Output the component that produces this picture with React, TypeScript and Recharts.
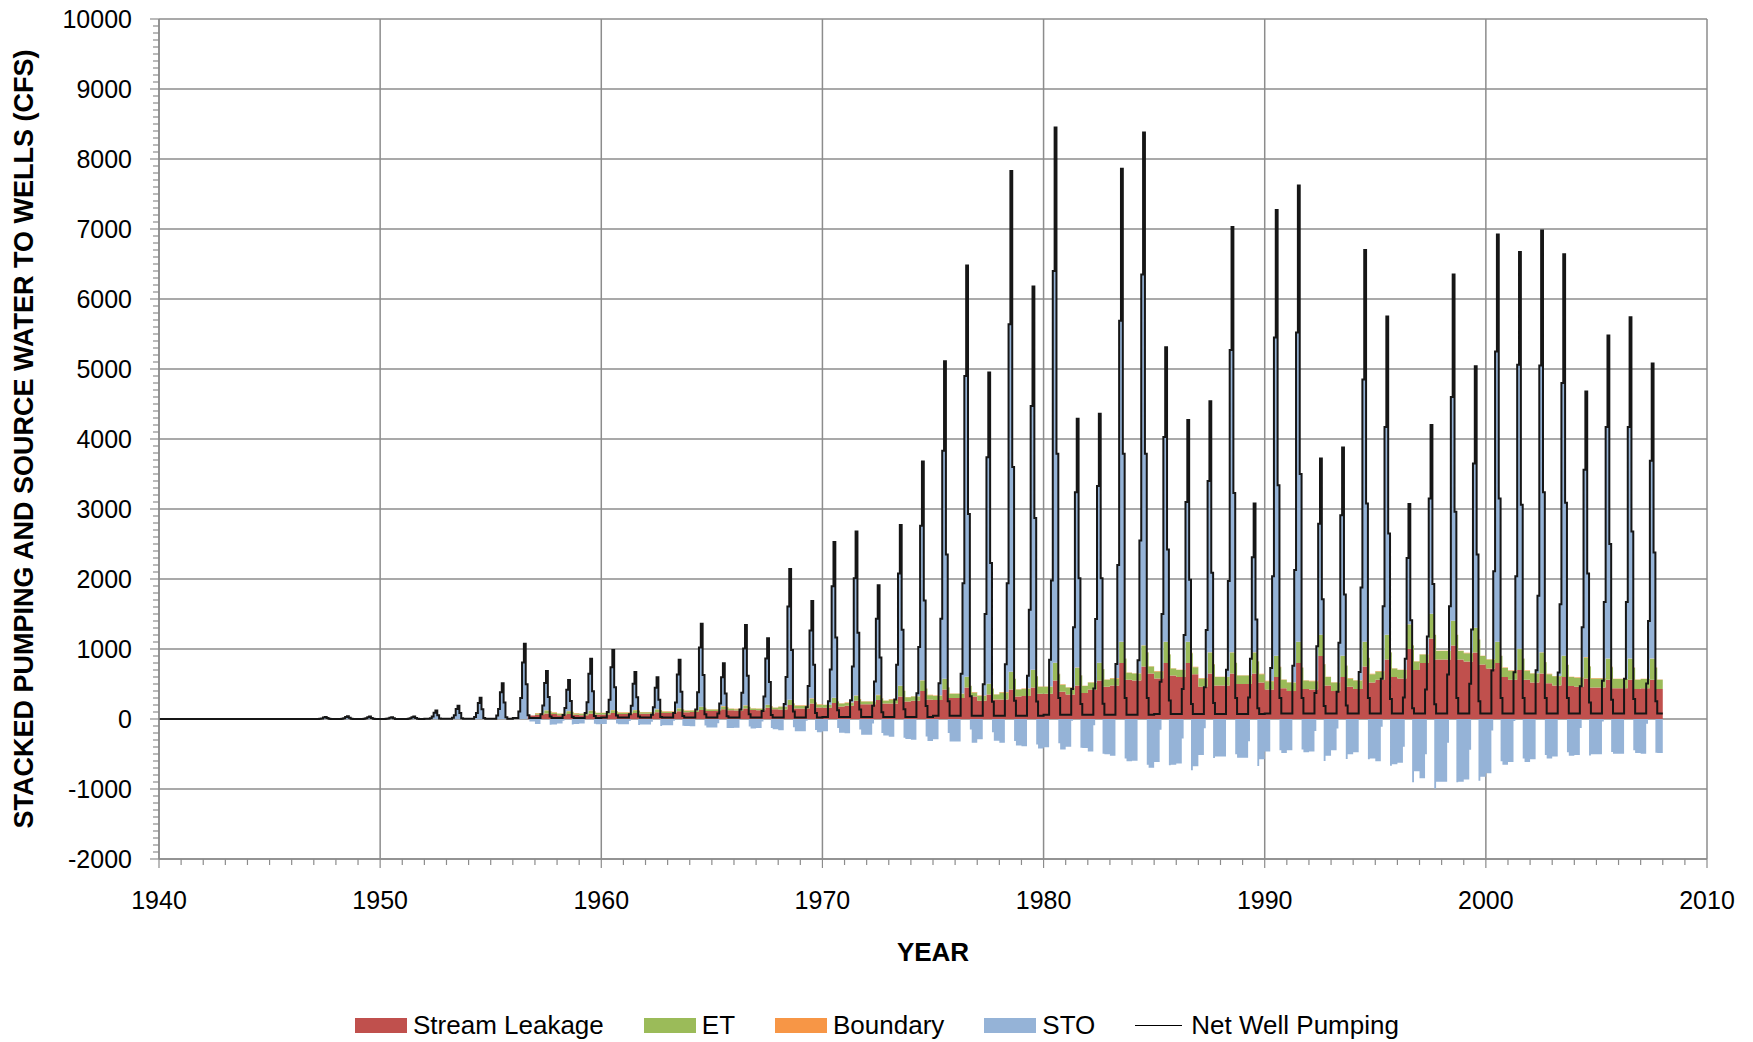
import React from 'react';
import { ComposedChart, Area, Line, XAxis, YAxis, CartesianGrid } from 'recharts';

const FIRST_YEAR = 1940;

// net well pumping, one reading per year for each month of the pumping season (cfs)
const PUMP_APR = [
  0, 0, 0, 0, 0, 0, 0, 3, 4, 4,
  3, 4, 12, 19, 30, 51, 108, 69, 56, 86,
  99, 67, 60, 85, 136, 80, 134, 115, 214, 169,
  253, 268, 191, 277, 368, 511, 648, 495, 783, 618,
  845, 429, 436, 786, 838, 531, 427, 454, 703, 308,
  727, 762, 372, 388, 670, 575, 307, 420, 635, 504,
  692, 667, 698, 664, 468, 548, 574, 508,
];
const PUMP_MAY = [
  0, 0, 0, 0, 0, 0, 0, 8, 11, 10,
  7, 10, 34, 53, 85, 143, 301, 192, 156, 241,
  276, 188, 167, 237, 381, 223, 376, 323, 600, 472,
  708, 750, 535, 776, 1030, 1431, 1940, 1500, 1940, 1560,
  1980, 1310, 1430, 2200, 2550, 1500, 1200, 1270, 1970, 860,
  2040, 2130, 1040, 1090, 1880, 1610, 860, 1180, 1610, 1280,
  2110, 2040, 1760, 1640, 1310, 1670, 1670, 1400,
];
const PUMP_JUN = [
  0, 0, 0, 0, 0, 0, 0, 22, 30, 26,
  19, 26, 90, 142, 229, 382, 807, 514, 418, 646,
  740, 503, 446, 636, 1021, 596, 1007, 864, 1607, 1264,
  1897, 2010, 1432, 2077, 2760, 3832, 4900, 3740, 5640, 4470,
  6400, 3240, 3330, 5690, 6350, 4030, 3100, 3400, 5270, 2310,
  5450, 5520, 2790, 2910, 4850, 4170, 2300, 3150, 4600, 3650,
  5250, 5060, 5050, 4800, 3560, 4170, 4170, 3690,
];
const PUMP_JUL = [
  0, 0, 0, 0, 0, 0, 0, 30, 40, 35,
  25, 35, 120, 190, 305, 510, 1076, 686, 557, 862,
  986, 671, 595, 848, 1362, 795, 1343, 1152, 2143, 1686,
  2530, 2680, 1910, 2770, 3680, 5110, 6480, 4950, 7830, 6180,
  8450, 4290, 4360, 7860, 8380, 5310, 4270, 4540, 7030, 3080,
  7270, 7620, 3720, 3880, 6700, 5750, 3070, 4200, 6350, 5040,
  6920, 6670, 6980, 6640, 4680, 5480, 5740, 5080,
];
const PUMP_AUG = [
  0, 0, 0, 0, 0, 0, 0, 14, 18, 16,
  12, 16, 55, 87, 140, 235, 495, 316, 256, 397,
  454, 309, 274, 390, 627, 366, 618, 530, 986, 776,
  1164, 1233, 879, 1274, 1693, 2351, 2930, 2230, 3600, 2870,
  3790, 2010, 2010, 3790, 3790, 2420, 1990, 2090, 3230, 1420,
  3340, 3500, 1710, 1780, 3080, 2650, 1410, 1930, 2960, 2350,
  3150, 3060, 3240, 3090, 2080, 2500, 2680, 2380,
];
const PUMP_SEP = [
  0, 0, 0, 0, 0, 0, 0, 2, 2, 2,
  1, 2, 6, 10, 15, 25, 54, 34, 28, 43,
  49, 34, 30, 42, 68, 40, 67, 58, 107, 84,
  126, 134, 95, 138, 184, 255, 324, 247, 260, 250,
  300, 215, 218, 300, 300, 265, 213, 227, 300, 154,
  300, 300, 186, 194, 300, 287, 153, 210, 300, 252,
  300, 300, 300, 300, 234, 274, 287, 254,
];
// off-season pumping (Oct - Mar)
const PUMP_BASE = [
  0, 0, 0, 0, 0, 0, 0, 0, 0, 0,
  0, 0, 5, 5, 5, 5, 15, 15, 15, 15,
  20, 20, 20, 20, 20, 20, 20, 20, 20, 20,
  30, 30, 30, 30, 30, 45, 45, 45, 45, 45,
  60, 60, 60, 60, 60, 70, 70, 70, 70, 70,
  80, 80, 80, 80, 80, 80, 80, 80, 80, 80,
  80, 80, 80, 80, 80, 80, 80, 80,
];

// stream leakage: Jan-May, Jun-Aug, Sep-Dec
const SL_SPRING = [
  0, 0, 0, 0, 0, 0, 0, 0, 0, 0,
  0, 0, 0, 0, 0, 0, 0, 60, 55, 55,
  65, 70, 75, 85, 100, 115, 120, 125, 135, 150,
  160, 190, 210, 220, 260, 270, 300, 260, 280, 330,
  360, 350, 420, 480, 550, 580, 600, 460, 480, 500,
  420, 400, 420, 400, 430, 560, 580, 800, 850, 820,
  720, 560, 520, 480, 460, 450, 440, 440,
];
const SL_SUMMER = [
  0, 0, 0, 0, 0, 0, 0, 0, 0, 0,
  0, 0, 0, 0, 0, 0, 0, 80, 70, 75,
  85, 85, 95, 110, 130, 140, 150, 160, 200, 220,
  230, 260, 270, 320, 400, 420, 450, 350, 420, 450,
  550, 480, 550, 800, 750, 800, 800, 650, 650, 650,
  600, 800, 900, 600, 750, 850, 1000, 1150, 1050, 950,
  800, 700, 650, 600, 580, 560, 560, 560,
];
const SL_FALL = [
  0, 0, 0, 0, 0, 0, 0, 0, 0, 0,
  0, 0, 0, 0, 0, 0, 50, 70, 60, 65,
  70, 75, 85, 95, 115, 125, 130, 140, 150, 165,
  180, 210, 220, 250, 280, 300, 320, 280, 320, 360,
  390, 370, 460, 560, 650, 620, 640, 480, 500, 520,
  440, 430, 480, 460, 520, 600, 700, 850, 850, 780,
  600, 560, 510, 470, 450, 440, 430, 430,
];

// ET: Oct-May and Jun-Sep
const ET_REST = [
  0, 0, 0, 0, 0, 0, 0, 0, 0, 0,
  0, 0, 0, 0, 0, 0, 0, 20, 20, 20,
  20, 20, 20, 20, 20, 20, 20, 20, 40, 40,
  40, 40, 40, 60, 60, 60, 60, 70, 100, 100,
  100, 100, 100, 100, 100, 100, 100, 120, 120, 120,
  120, 120, 120, 120, 120, 120, 120, 120, 120, 120,
  130, 130, 130, 130, 130, 130, 130, 130,
];
const ET_SUMMER = [
  0, 0, 0, 0, 0, 0, 0, 0, 0, 0,
  0, 0, 0, 0, 0, 0, 0, 40, 40, 40,
  40, 40, 40, 40, 40, 40, 40, 40, 70, 70,
  70, 70, 70, 150, 150, 150, 150, 150, 250, 250,
  250, 250, 250, 300, 300, 300, 300, 300, 300, 300,
  300, 300, 300, 300, 350, 350, 350, 350, 350, 350,
  300, 300, 300, 300, 300, 300, 300, 300,
];

const BOUNDARY = [
  0, 0, 0, 0, 0, 0, 0, 0, 0, 0,
  0, 0, 0, 0, 0, 0, 0, 5, 5, 5,
  5, 5, 5, 5, 5, 5, 5, 5, 5, 5,
  5, 5, 5, 5, 5, 5, 5, 5, 5, 5,
  5, 5, 5, 5, 5, 5, 5, 5, 5, 5,
  5, 5, 5, 5, 5, 5, 5, 5, 5, 5,
  5, 5, 5, 5, 5, 5, 5, 5,
];

const X_LABELS = [1940, 1950, 1960, 1970, 1980, 1990, 2000, 2010];
const Y_LABELS = [-2000, -1000, 0, 1000, 2000, 3000, 4000, 5000, 6000, 7000, 8000, 9000, 10000];

const RED = '#C0504D';
const GREEN = '#9BBB59';
const ORANGE = '#F79646';
const BLUE = '#95B3D7';
const GRID = '#8c8c8c';
const FONT = '"Liberation Sans", Arial, Helvetica, sans-serif';

// which reading each calendar month uses
const PUMP_BY_MONTH = [PUMP_BASE, PUMP_BASE, PUMP_BASE, PUMP_APR, PUMP_MAY, PUMP_JUN, PUMP_JUL, PUMP_AUG, PUMP_SEP, PUMP_BASE, PUMP_BASE, PUMP_BASE];
const SL_BY_MONTH = [SL_SPRING, SL_SPRING, SL_SPRING, SL_SPRING, SL_SPRING, SL_SUMMER, SL_SUMMER, SL_SUMMER, SL_FALL, SL_FALL, SL_FALL, SL_FALL];
const ET_BY_MONTH = [ET_REST, ET_REST, ET_REST, ET_REST, ET_REST, ET_SUMMER, ET_SUMMER, ET_SUMMER, ET_SUMMER, ET_REST, ET_REST, ET_REST];

type Row = { t: number; sl: number; et: number; bd: number; sto: number; pump: number };

const rows: Row[] = [];
PUMP_JUL.forEach((_, i) => {
  for (let m = 0; m < 12; m++) {
    const pump = PUMP_BY_MONTH[m][i];
    const sl = SL_BY_MONTH[m][i];
    const et = ET_BY_MONTH[m][i];
    const bd = BOUNDARY[i];
    // storage makes up whatever the other sources don't supply
    rows.push({ t: FIRST_YEAR + i + m / 12, sl, et, bd, sto: pump - sl - et - bd, pump });
  }
});
// close the last month's step
rows.push({ ...rows[rows.length - 1], t: FIRST_YEAR + PUMP_JUL.length });

const X_MINOR: number[] = [];
for (let y = 1940; y <= 2010; y++) X_MINOR.push(y);
const Y_MINOR: number[] = [];
for (let v = -2000; v <= 10000; v += 100) Y_MINOR.push(v);

const YTick = (props: any) => {
  const { x, y, payload } = props;
  const major = payload.value % 1000 === 0;
  return (
    <g>
      <line x1={x - (major ? 9 : 6)} x2={x} y1={y} y2={y} stroke={GRID} strokeWidth={1.2} />
      {major && (
        <text x={x - 27} y={y} dy="0.35em" textAnchor="end" fontSize={25} fill="#000" fontFamily={FONT}>
          {payload.value}
        </text>
      )}
    </g>
  );
};

const XTick = (props: any) => {
  const { x, y, payload } = props;
  const major = payload.value % 10 === 0;
  return (
    <g>
      <line x1={x} x2={x} y1={y} y2={y + (major ? 9 : 6)} stroke={GRID} strokeWidth={1.2} />
      {major && (
        <text x={x} y={y + 41} dy="0.35em" textAnchor="middle" fontSize={25} fill="#000" fontFamily={FONT}>
          {payload.value}
        </text>
      )}
    </g>
  );
};

const LEGEND = [
  { name: 'Stream Leakage', color: RED, line: false },
  { name: 'ET', color: GREEN, line: false },
  { name: 'Boundary', color: ORANGE, line: false },
  { name: 'STO', color: BLUE, line: false },
  { name: 'Net Well Pumping', color: '#000', line: true },
];

export default function App() {
  return (
    <div style={{ position: 'absolute', left: 0, top: 0, width: 1753, height: 1042, background: '#fff', fontFamily: FONT }}>
      <ComposedChart
        width={1753}
        height={1042}
        data={rows}
        stackOffset="sign"
        margin={{ top: 19, right: 46, bottom: 123, left: 59 }}
      >
        <CartesianGrid xAxisId="g" yAxisId="g" stroke={GRID} strokeWidth={1.5} />
        <XAxis xAxisId="g" type="number" dataKey="t" domain={[1940, 2010]} ticks={X_LABELS} allowDataOverflow hide />
        <YAxis yAxisId="g" type="number" domain={[-2000, 10000]} ticks={Y_LABELS} allowDataOverflow hide />
        <XAxis
          dataKey="t"
          type="number"
          domain={[1940, 2010]}
          ticks={X_MINOR}
          interval={0}
          allowDataOverflow
          height={60}
          tickSize={0}
          tickMargin={0}
          tickLine={false}
          axisLine={{ stroke: GRID, strokeWidth: 1.5 }}
          tick={(p: any) => <XTick {...p} />}
        />
        <YAxis
          type="number"
          domain={[-2000, 10000]}
          ticks={Y_MINOR}
          interval={0}
          allowDataOverflow
          width={100}
          tickSize={0}
          tickMargin={0}
          tickLine={false}
          axisLine={{ stroke: GRID, strokeWidth: 1.5 }}
          tick={(p: any) => <YTick {...p} />}
        />
        <Area dataKey="sl" name="Stream Leakage" stackId="s" type="stepAfter" fill={RED} fillOpacity={1} stroke="none" isAnimationActive={false} />
        <Area dataKey="et" name="ET" stackId="s" type="stepAfter" fill={GREEN} fillOpacity={1} stroke="none" isAnimationActive={false} />
        <Area dataKey="bd" name="Boundary" stackId="s" type="stepAfter" fill={ORANGE} fillOpacity={1} stroke="none" isAnimationActive={false} />
        <Area dataKey="sto" name="STO" stackId="s" type="stepAfter" fill={BLUE} fillOpacity={1} stroke="none" isAnimationActive={false} />
        <Line dataKey="pump" name="Net Well Pumping" type="stepAfter" stroke="#161616" strokeWidth={2} dot={false} activeDot={false} isAnimationActive={false} />
      </ComposedChart>

      <div
        style={{
          position: 'absolute',
          left: 24,
          top: 439,
          transform: 'translate(-50%, -50%) rotate(-90deg)',
          whiteSpace: 'nowrap',
          fontWeight: 'bold',
          fontSize: 27,
        }}
      >
        STACKED PUMPING AND SOURCE WATER TO WELLS (CFS)
      </div>
      <div
        style={{
          position: 'absolute',
          left: 933,
          top: 952,
          transform: 'translate(-50%, -50%)',
          whiteSpace: 'nowrap',
          fontWeight: 'bold',
          fontSize: 26,
        }}
      >
        YEAR
      </div>

      <div style={{ position: 'absolute', left: 355, top: 1008, height: 34, display: 'flex', alignItems: 'center', fontSize: 26 }}>
        {LEGEND.map((item, i) => (
          <div key={item.name} style={{ display: 'flex', alignItems: 'center', marginLeft: i === 0 ? 0 : 40 }}>
            {item.line ? (
              <div style={{ width: 47, height: 0, borderTop: '1.5px solid #000' }} />
            ) : (
              <div style={{ width: 52, height: 15, background: item.color }} />
            )}
            <span style={{ marginLeft: item.line ? 9 : 6 }}>{item.name}</span>
          </div>
        ))}
      </div>
    </div>
  );
}
